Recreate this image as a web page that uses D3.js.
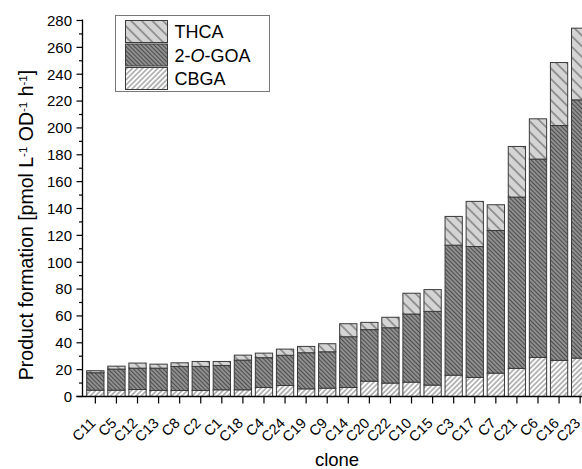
<!DOCTYPE html>
<html>
<head>
<meta charset="utf-8">
<script src="https://cdn.jsdelivr.net/npm/d3@7"></script>
<style>
  body { margin: 0; background: #fff; }
  svg { display: block; font-family: "Liberation Sans", Arial, sans-serif; }
</style>
</head>
<body>
<svg id="chart" width="582" height="469"></svg>
<script>
// clones, in plotted order
const clones = ['C11', 'C5', 'C12', 'C13', 'C8', 'C2', 'C1', 'C18', 'C4', 'C24', 'C19', 'C9',
  'C14', 'C20', 'C22', 'C10', 'C15', 'C3', 'C17', 'C7', 'C21', 'C6', 'C16', 'C23'];

// stacked segment values (pmol L-1 OD-1 h-1)
const cbga = [4.7, 4.7, 5.2, 4.5, 4.5, 4.5, 5.0, 5.0, 6.7, 8.2, 5.7, 6.2,
  6.7, 11.4, 10.0, 10.7, 8.5, 15.9, 14.2, 17.4, 20.9, 29.1, 26.9, 28.6];
const goa = [13.0, 15.7, 15.9, 16.6, 17.9, 17.9, 18.1, 22.1, 22.2, 22.5, 26.9, 27.1,
  37.8, 38.4, 41.2, 50.7, 54.9, 96.8, 97.5, 106.2, 127.6, 147.7, 174.9, 192.3];
const thca = [1.5, 2.2, 3.8, 3.0, 2.7, 3.7, 3.0, 3.7, 3.4, 4.6, 4.7, 6.0,
  9.7, 5.4, 7.8, 15.5, 16.2, 21.4, 33.6, 19.2, 37.7, 30.0, 46.9, 53.4];

const yTicks = d3.range(0, 281, 20);
const seriesNames = ['CBGA', '2-O-GOA', 'THCA'];

const svg = d3.select('#chart');
const x0 = 82.5, x1 = 593, yBase = 396.5, yTop = 20.5;

const x = d3.scaleBand().domain(clones).range([x0, x1]).paddingInner(0.18).paddingOuter(0.2);
const y = d3.scaleLinear().domain([0, 280]).range([yBase, yTop]);

// hatch patterns
const defs = svg.append('defs');
function hatch(id, bg, stroke, gap, angle, sw) {
  const p = defs.append('pattern')
    .attr('id', id)
    .attr('patternUnits', 'userSpaceOnUse')
    .attr('width', gap).attr('height', gap)
    .attr('patternTransform', 'rotate(' + angle + ')');
  p.append('rect').attr('width', gap).attr('height', gap).attr('fill', bg);
  p.append('line')
    .attr('x1', 0).attr('x2', gap)
    .attr('y1', gap / 2).attr('y2', gap / 2)
    .attr('stroke', stroke).attr('stroke-width', sw);
}
hatch('hThca', '#d4d4d4', '#555', 7.5, 45, 1);
hatch('hGoa', '#8e8e8e', '#4e4e4e', 3, 45, 1);
hatch('hCbga', '#ffffff', '#666', 3.6, -45, 0.9);

const fills = { 'CBGA': 'url(#hCbga)', '2-O-GOA': 'url(#hGoa)', 'THCA': 'url(#hThca)' };

const rows = clones.map((c, i) => ({ clone: c, 'CBGA': cbga[i], '2-O-GOA': goa[i], 'THCA': thca[i] }));
const stacked = d3.stack().keys(seriesNames)(rows);

svg.append('g')
  .selectAll('g')
  .data(stacked)
  .join('g')
    .attr('fill', d => fills[d.key])
  .selectAll('rect')
  .data(d => d)
  .join('rect')
    .attr('x', d => x(d.data.clone))
    .attr('width', x.bandwidth())
    .attr('y', d => y(d[1]))
    .attr('height', d => y(d[0]) - y(d[1]))
    .attr('stroke', '#3a3a3a')
    .attr('stroke-width', 1);

// y axis
const yAxis = svg.append('g').attr('transform', 'translate(' + x0 + ',0)');
yAxis.append('line').attr('y1', yBase).attr('y2', yTop - 1).attr('stroke', '#000').attr('stroke-width', 1.3);
yAxis.selectAll('.minor')
  .data(d3.range(10, 280, 20))
  .join('line')
    .attr('x1', 0).attr('x2', -3.5)
    .attr('y1', d => y(d)).attr('y2', d => y(d))
    .attr('stroke', '#000').attr('stroke-width', 1.2);
yAxis.selectAll('.major')
  .data(yTicks)
  .join('line')
    .attr('x1', 0).attr('x2', -6)
    .attr('y1', d => y(d)).attr('y2', d => y(d))
    .attr('stroke', '#000').attr('stroke-width', 1.2);
yAxis.selectAll('text')
  .data(yTicks)
  .join('text')
    .attr('x', -10.5)
    .attr('y', d => y(d))
    .attr('dy', '0.36em')
    .attr('text-anchor', 'end')
    .attr('font-size', 15)
    .text(d => d);

// x axis
const xAxis = svg.append('g');
xAxis.append('line').attr('x1', x0 - 6).attr('x2', 582).attr('y1', yBase).attr('y2', yBase)
  .attr('stroke', '#000').attr('stroke-width', 1.3);
xAxis.selectAll('.tick')
  .data(clones)
  .join('line')
    .attr('x1', d => x(d) + x.bandwidth() / 2).attr('x2', d => x(d) + x.bandwidth() / 2)
    .attr('y1', yBase).attr('y2', yBase + 7)
    .attr('stroke', '#000').attr('stroke-width', 1.2);
xAxis.selectAll('text')
  .data(clones)
  .join('text')
    .attr('transform', d => 'translate(' + (x(d) + x.bandwidth() / 2 + 1) + ',' + (yBase + 27.5) + ') rotate(-45)')
    .attr('text-anchor', 'end')
    .attr('font-size', 14.5)
    .text(d => d);

// axis titles
svg.append('text')
  .attr('x', 337).attr('y', 466)
  .attr('text-anchor', 'middle')
  .attr('font-size', 18.5)
  .text('clone');

const yTitle = svg.append('text')
  .attr('transform', 'translate(33,225) rotate(-90)')
  .attr('text-anchor', 'middle')
  .attr('font-size', 19.5);
yTitle.append('tspan').text('Product formation [pmol L');
yTitle.append('tspan').attr('dy', -6.5).attr('font-size', 11.5).text('-1');
yTitle.append('tspan').attr('dy', 6.5).text(' OD');
yTitle.append('tspan').attr('dy', -6.5).attr('font-size', 11.5).text('-1');
yTitle.append('tspan').attr('dy', 6.5).text(' h');
yTitle.append('tspan').attr('dy', -6.5).attr('font-size', 11.5).text('-1');
yTitle.append('tspan').attr('dy', 6.5).text(']');

// legend
const legend = svg.append('g');
legend.append('rect')
  .attr('x', 115.5).attr('y', 15.5).attr('width', 154).attr('height', 76)
  .attr('fill', '#fff').attr('stroke', '#777').attr('stroke-width', 1);
const legendOrder = ['THCA', '2-O-GOA', 'CBGA'];
const li = legend.selectAll('.item')
  .data(legendOrder)
  .join('g')
    .attr('transform', (d, i) => 'translate(125.5,' + (20.5 + i * 23.5) + ')');
li.append('rect')
  .attr('width', 42).attr('height', 22)
  .attr('fill', d => fills[d])
  .attr('stroke', '#3a3a3a').attr('stroke-width', 1);
const lt = li.append('text')
  .attr('x', 49).attr('y', 17.5)
  .attr('font-size', 18);
lt.filter(d => d !== '2-O-GOA').text(d => d);
const goaText = lt.filter(d => d === '2-O-GOA');
goaText.append('tspan').text('2-');
goaText.append('tspan').attr('font-style', 'italic').text('O');
goaText.append('tspan').text('-GOA');
</script>
</body>
</html>
